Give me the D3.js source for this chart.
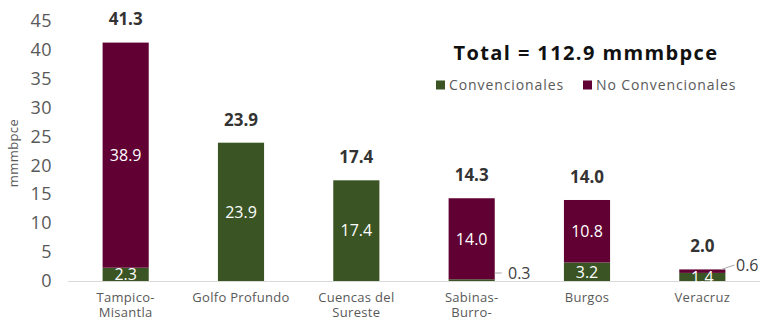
<!DOCTYPE html>
<html>
<head>
<meta charset="utf-8" />
<title>Recursos prospectivos</title>
<script src="https://cdn.jsdelivr.net/npm/d3@7"></script>
<style>
  body { margin: 0; background: #fff; }
  text { font-family: "Open Sans", "Noto Sans", sans-serif; }
</style>
</head>
<body>
<div id="chart"></div>
<script>
  // data
  var cuencas = ["Tampico-\nMisantla", "Golfo Profundo", "Cuencas del\nSureste", "Sabinas-\nBurro-", "Burgos", "Veracruz"];
  var convencionales = [2.3, 23.9, 17.4, 0.3, 3.2, 1.4];
  var noConvencionales = [38.9, 0, 0, 14.0, 10.8, 0.6];
  var totales = [41.3, 23.9, 17.4, 14.3, 14.0, 2.0];
  var yTicks = [0, 5, 10, 15, 20, 25, 30, 35, 40, 45];
  var series = ["Convencionales", "No Convencionales"];
  var colores = ["#3a5424", "#610032"];

  var width = 761, height = 318;
  var svg = d3.select("#chart").append("svg")
      .attr("width", width).attr("height", height);

  var x = d3.scaleBand()
      .domain(cuencas)
      .range([68, 760])
      .paddingInner(0.6)
      .paddingOuter(0.3);

  var y = d3.scaleLinear().domain([0, 45]).range([281, 20.6]);

  // y axis labels (no line)
  var yAxis = d3.axisLeft(y).tickValues(yTicks).tickSize(0).tickPadding(0);
  var ya = svg.append("g").attr("transform", "translate(52,0)").call(yAxis);
  ya.select(".domain").remove();
  ya.selectAll("text")
      .attr("fill", "#595959")
      .style("font-size", "18px")
      .style("letter-spacing", "0.5px")
      .style("font-family", "'Open Sans', sans-serif");

  svg.append("text")
      .attr("transform", "translate(18,153) rotate(-90)")
      .attr("text-anchor", "middle")
      .attr("fill", "#595959")
      .style("font-size", "13px")
      .style("letter-spacing", "0.4px")
      .text("mmmbpce");

  // stacked bars
  var rows = cuencas.map(function (c, i) {
    return { cat: c, Convencionales: convencionales[i], "No Convencionales": noConvencionales[i] };
  });
  var stack = d3.stack().keys(series)(rows);

  svg.append("g").selectAll("g")
    .data(stack)
    .join("g")
      .attr("fill", function (d, i) { return colores[i]; })
    .selectAll("rect")
    .data(function (d) { return d; })
    .join("rect")
      .attr("x", function (d) { return x(d.data.cat); })
      .attr("y", function (d) { return y(d[1]); })
      .attr("height", function (d) { return y(d[0]) - y(d[1]); })
      .attr("width", x.bandwidth());

  // x axis line
  svg.append("line")
      .attr("x1", 68).attr("x2", 760)
      .attr("y1", y(0) + 0.5).attr("y2", y(0) + 0.5)
      .attr("stroke", "#d9d9d9").attr("stroke-width", 1);

  // inside labels (0.3 and 0.6 are placed outside)
  var inner = svg.append("g").attr("text-anchor", "middle").attr("fill", "#fff")
      .style("font-size", "16px");
  stack.forEach(function (s) {
    s.forEach(function (d) {
      var v = d[1] - d[0];
      if (v < 1) return;
      inner.append("text")
          .attr("x", x(d.data.cat) + x.bandwidth() / 2)
          .attr("y", (y(d[0]) + y(d[1])) / 2)
          .attr("dy", "0.36em")
          .text(d3.format(".1f")(v));
    });
  });

  // leader labels for small segments
  var smallLabels = [
    { i: 3, value: convencionales[3], x1: 0, y1: 273, x2: 7, y2: 273, tx: 508, ty: 273 },
    { i: 5, value: noConvencionales[5], x1: -4, y1: 269.5, x2: 9, y2: 265, tx: 736, ty: 265 }
  ];
  smallLabels.forEach(function (l) {
    var bx = x(cuencas[l.i]) + x.bandwidth();
    svg.append("line")
        .attr("x1", bx + l.x1).attr("y1", l.y1)
        .attr("x2", bx + l.x2).attr("y2", l.y2)
        .attr("stroke", "#a6a6a6").attr("stroke-width", 1);
    svg.append("text")
        .attr("x", l.tx).attr("y", l.ty).attr("dy", "0.36em")
        .attr("fill", "#404040")
        .style("font-size", "16px")
        .text(d3.format(".1f")(l.value));
  });

  // totals
  svg.append("g").selectAll("text")
    .data(totales)
    .join("text")
      .attr("x", function (d, i) { return x(cuencas[i]) + x.bandwidth() / 2; })
      .attr("y", function (d) { return y(d) - 17; })
      .attr("text-anchor", "middle")
      .attr("fill", "#333")
      .style("font-size", "17px")
      .style("font-weight", "700")
      .text(function (d) { return d3.format(".1f")(d); });

  // category labels
  var cats = svg.append("g").attr("text-anchor", "middle").attr("fill", "#595959")
      .style("font-size", "13px")
      .style("letter-spacing", "0.3px");
  cuencas.forEach(function (c) {
    var cx = x(c) + x.bandwidth() / 2;
    c.split("\n").forEach(function (line, k) {
      cats.append("text")
          .attr("x", cx)
          .attr("y", 302 + k * 15)
          .text(line);
    });
  });

  // title and legend
  svg.append("text")
      .attr("x", 586).attr("y", 60)
      .attr("text-anchor", "middle")
      .attr("fill", "#111")
      .style("font-size", "20px")
      .style("font-weight", "700")
      .style("letter-spacing", "1.4px")
      .text("Total = 112.9 mmmbpce");

  var legX = [436, 583];
  var leg = svg.append("g").selectAll("g")
    .data(series)
    .join("g")
      .attr("transform", function (d, i) { return "translate(" + legX[i] + ",85)"; });
  leg.append("rect")
      .attr("x", 0).attr("y", -4.5).attr("width", 9).attr("height", 9)
      .attr("fill", function (d, i) { return colores[i]; });
  leg.append("text")
      .attr("x", 13).attr("dy", "0.36em")
      .attr("fill", "#595959")
      .style("font-size", "14px")
      .style("letter-spacing", "0.9px")
      .text(function (d) { return d; });
</script>
</body>
</html>
